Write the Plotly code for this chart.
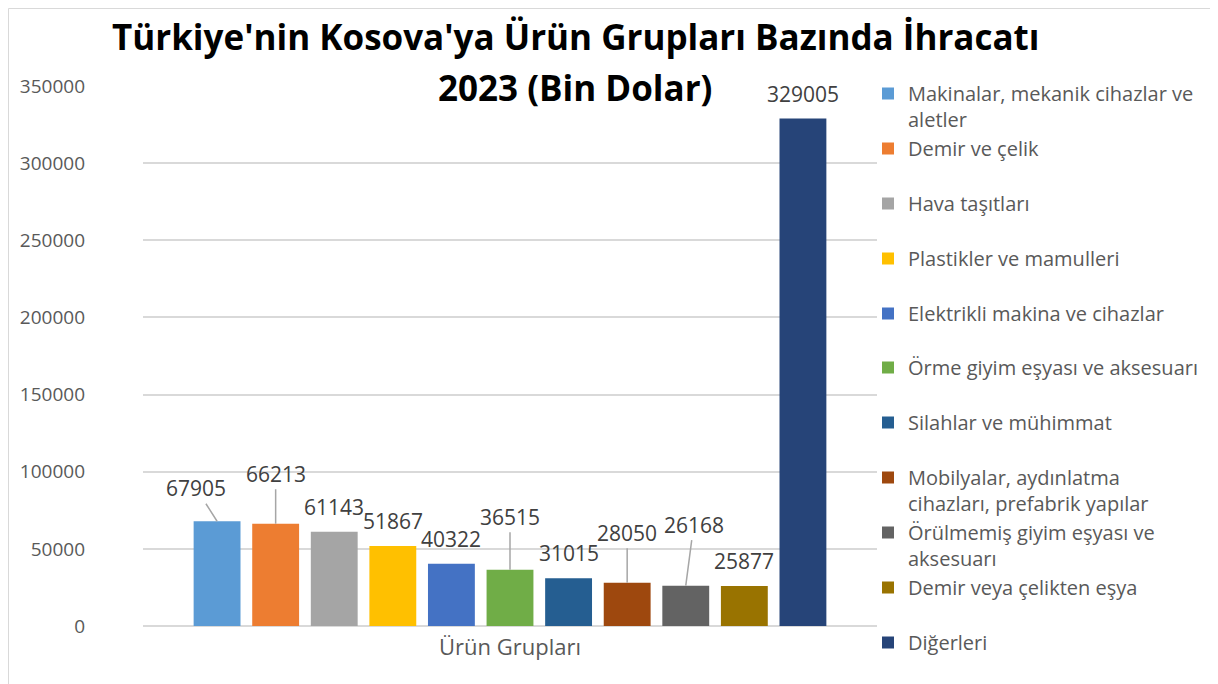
import textwrap
import plotly.graph_objects as go

# ---- data ----
category = "Ürün Grupları"
product_groups = [
    "Makinalar, mekanik cihazlar ve aletler",
    "Demir ve çelik",
    "Hava taşıtları",
    "Plastikler ve mamulleri",
    "Elektrikli makina ve cihazlar",
    "Örme giyim eşyası ve aksesuarı",
    "Silahlar ve mühimmat",
    "Mobilyalar, aydınlatma cihazları, prefabrik yapılar",
    "Örülmemiş giyim eşyası ve aksesuarı",
    "Demir veya çelikten eşya",
    "Diğerleri",
]
export_values = [67905, 66213, 61143, 51867, 40322, 36515, 31015, 28050, 26168, 25877, 329005]
y_ticks = [0, 50000, 100000, 150000, 200000, 250000, 300000, 350000]
title_lines = ["Türkiye'nin Kosova'ya Ürün Grupları Bazında İhracatı", "2023 (Bin Dolar)"]

colors = ["#5B9BD5", "#ED7D31", "#A5A5A5", "#FFC000", "#4472C4", "#70AD47",
          "#255E91", "#9E480E", "#636363", "#997300", "#264478"]
# label offsets in pixels (dx, dy) and whether a leader line is drawn
label_offsets = [(-21, -33, True), (0, -50, True), (0, -25, False), (0, -25, False),
                 (0, -25, False), (0, -53, True), (0, -25, False), (0, -50, True),
                 (8, -61, True), (0, -25, False), (0, -24, False)]

# figure is placed 8px in from the page corner by the browser
W, H = 1210, 676
ML, MR, MT, MB = 135, 341, 78, 58
PW, PH = W - ML - MR, H - MT - MB
BARGAP, GROUPGAP = 0.122, 0.2
FONT = "Open Sans"
ITEM_STEP = 54.8
SPLIT = 5  # legend entries in the first legend box


def px_x(p):
    return (p - ML) / PW


def px_y(p):
    return (H - MB - p) / PH


fig = go.Figure()
n = len(product_groups)
for i, (name, val) in enumerate(zip(product_groups, export_values)):
    wrapped = textwrap.wrap(name, 30)
    if len(wrapped) == 1:
        wrapped.append("\u00a0")
    fig.add_trace(go.Bar(
        x=[category], y=[val], name="<br>".join(wrapped),
        marker=dict(color=colors[i], line=dict(width=0)),
        legendgroup=f"g{i}", hoverinfo="skip",
        legend="legend" if i < SPLIT else "legend2",
    ))

slot = (1 - BARGAP) / n
annotations = []
for i, val in enumerate(export_values):
    xc = -0.5 + BARGAP / 2 + (i + 0.5) * slot
    dx, dy, leader = label_offsets[i]
    if leader:
        annotations.append(dict(
            x=xc, y=val, xref="x", yref="y", text=str(val), showarrow=True,
            arrowhead=0, arrowwidth=1.5, arrowcolor="#A6A6A6", ax=dx, ay=dy,
            axref="pixel", ayref="pixel", standoff=0,
            font=dict(family=FONT, size=21, color="#404040"),
        ))
    else:
        annotations.append(dict(
            x=xc, y=val, xref="x", yref="y", text=str(val), showarrow=False,
            yanchor="middle", xshift=dx, yshift=-dy,
            font=dict(family=FONT, size=21, color="#404040"),
        ))

title_y = [29, 80]
for line, ty in zip(title_lines, title_y):
    annotations.append(dict(
        x=px_x(567), y=px_y(ty), xref="paper", yref="paper", text=f"<b>{line}</b>",
        showarrow=False, xanchor="center", yanchor="middle",
        font=dict(family=FONT, size=35, color="black"),
    ))

fig.add_shape(type="rect", xref="paper", yref="paper",
              x0=px_x(0.5), x1=px_x(1300), y0=px_y(0.5), y1=px_y(800),
              line=dict(color="#D9D9D9", width=1), fillcolor="rgba(0,0,0,0)", layer="below")

legend_style = dict(
    xanchor="left", yanchor="top", valign="top", tracegroupgap=0,
    traceorder="normal", font=dict(family=FONT, size=20, color="#595959"),
    bgcolor="rgba(0,0,0,0)",
)
LEG_TOP = 66
LEG_X = 860
fig.update_layout(
    width=W, height=H,
    margin=dict(l=ML, r=MR, t=MT, b=MB, pad=0, autoexpand=False),
    paper_bgcolor="white", plot_bgcolor="white",
    barmode="group", bargap=BARGAP, bargroupgap=GROUPGAP,
    font=dict(family=FONT, color="#595959"),
    showlegend=True,
    legend=dict(x=px_x(LEG_X), y=px_y(LEG_TOP), **legend_style),
    legend2=dict(x=px_x(LEG_X), y=px_y(LEG_TOP + SPLIT * ITEM_STEP), **legend_style),
    xaxis=dict(
        type="category", showgrid=False, showline=False, zeroline=False,
        ticks="", tickfont=dict(family=FONT, size=22, color="#595959"),
        ticklabelstandoff=6,
    ),
    yaxis=dict(
        range=[0, 350000], tickvals=y_ticks, tickformat="d",
        showgrid=True, gridcolor="#D9D9D9", gridwidth=1.5,
        zeroline=True, zerolinecolor="#D9D9D9", zerolinewidth=1.5,
        showline=False, ticks="", ticklabelstandoff=57,
        tickfont=dict(family=FONT, size=19, color="#595959"),
    ),
    annotations=annotations,
)

fig.write_html("out.html")
